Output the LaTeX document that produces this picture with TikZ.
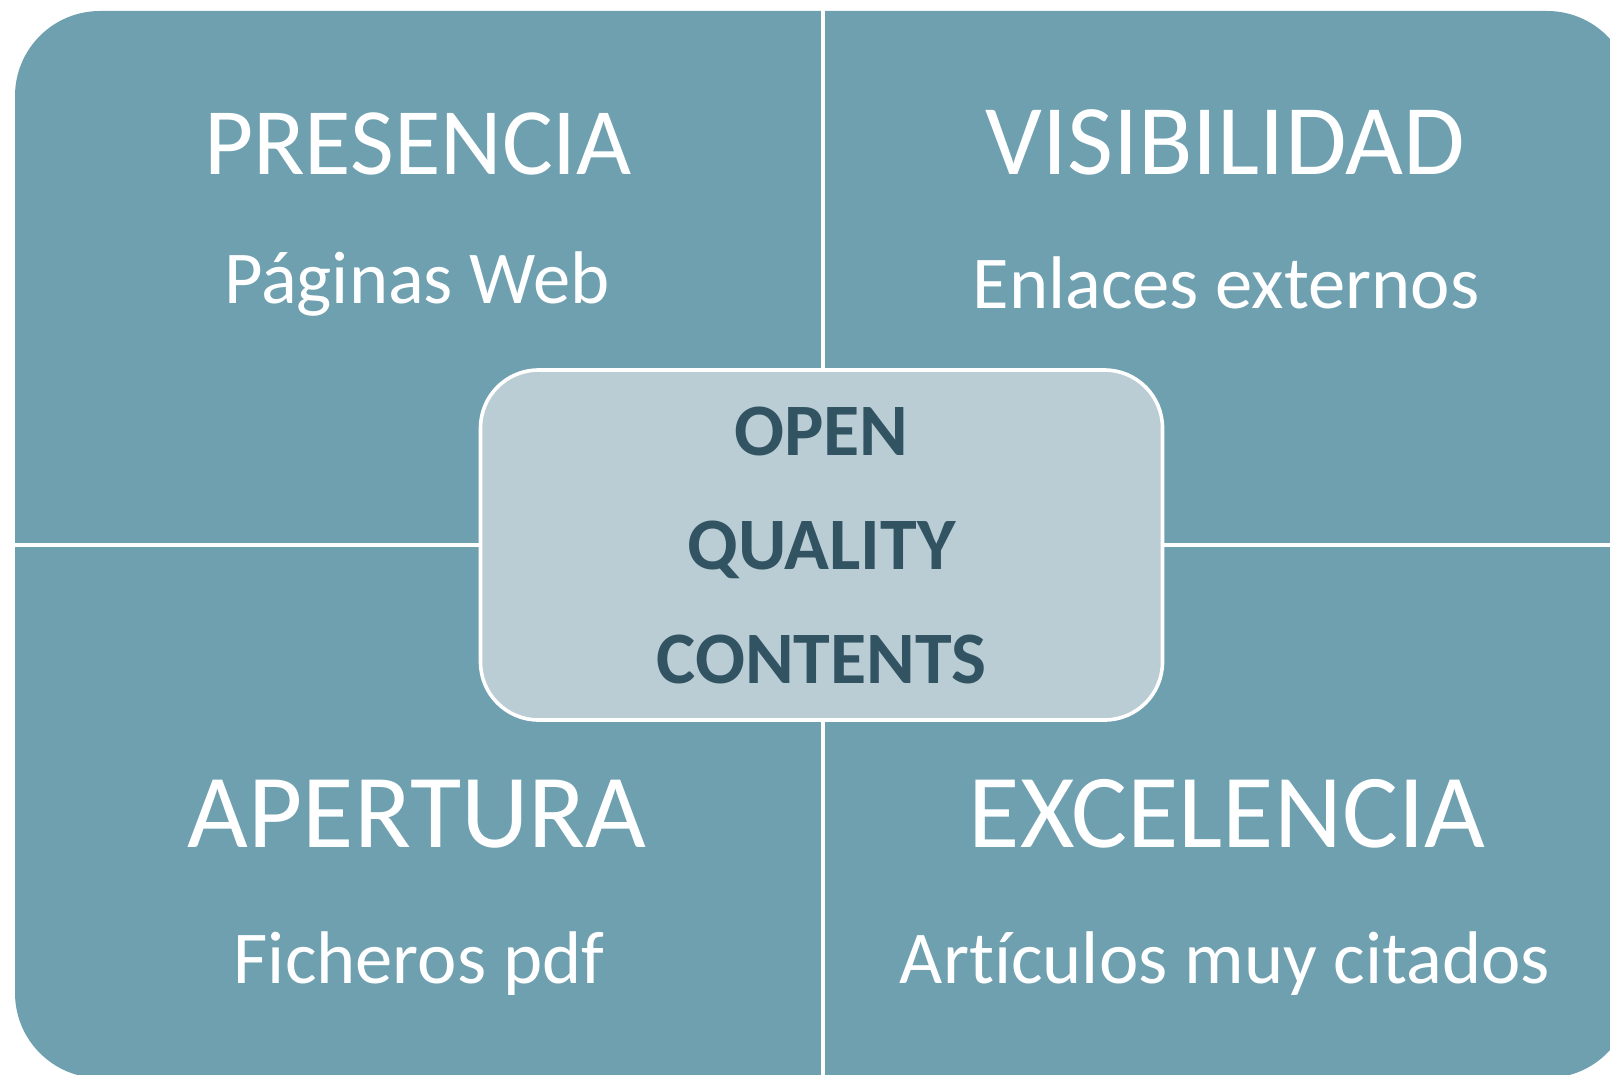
\documentclass[tikz,border=0pt]{standalone}
\usepackage{fontspec}
\setmainfont{Carlito}[Ligatures=NoCommon]
\usepackage{xcolor}
\usepackage{tikz}

\definecolor{quadblue}{HTML}{6EA0B0}
\definecolor{corefill}{HTML}{BACDD5}
\definecolor{coretext}{HTML}{325462}

\tikzset{
  title/.style={white,anchor=base,font=\fontsize{#1}{50}\selectfont},
  title/.default=47.6,
  subtitle/.style={white,anchor=base,font=\fontsize{37.3}{40}\selectfont},
  corebox/.style={draw=white,line width=1.8pt,fill=corefill,rounded corners=29pt,
    minimum width=341pt,minimum height=175pt,align=center,text=coretext,
    font=\bfseries\fontsize{37}{57}\selectfont}
}

\begin{document}
\begin{tikzpicture}[x=0.5pt, y=-0.5pt]
        \clip (0,0) rectangle (1610,1075);
        \fill[white] (0,0) rectangle (1610,1075);

        % Outer rounded field, cut by the page edges
        \fill[quadblue,rounded corners=42.5pt] (15,11) rectangle (1632,1078);

        % Gaps between the quadrants
        \draw[white,line width=2pt] (822.5,0) -- (822.5,1075);
        \draw[white,line width=2pt] (0,545) -- (1610,545);

        % Top left
        \node[title] (presencia) at (418,175) {PRESENCIA};
        \node[subtitle] (paginas) at (417,303.5) {Páginas Web};

        % Top right
        \node[title=50] (visibilidad) at (1225,175) {VISIBILIDAD};
        \node[subtitle] (enlaces) at (1226,308) {Enlaces externos};

        % Bottom left
        \node[title=52.5] (apertura) at (417,847) {APERTURA};
        \node[subtitle] (ficheros) at (419,983.5) {Ficheros pdf};

        % Bottom right
        \node[title=52.5] (excelencia) at (1227,847) {EXCELENCIA};
        \node[subtitle] (articulos) at (1225,983.5) {Artículos muy citados};

        % Centre box
        \node[corebox] (core) at (821.5,545) {OPEN\\QUALITY\\CONTENTS};

    \end{tikzpicture}
\end{document}
